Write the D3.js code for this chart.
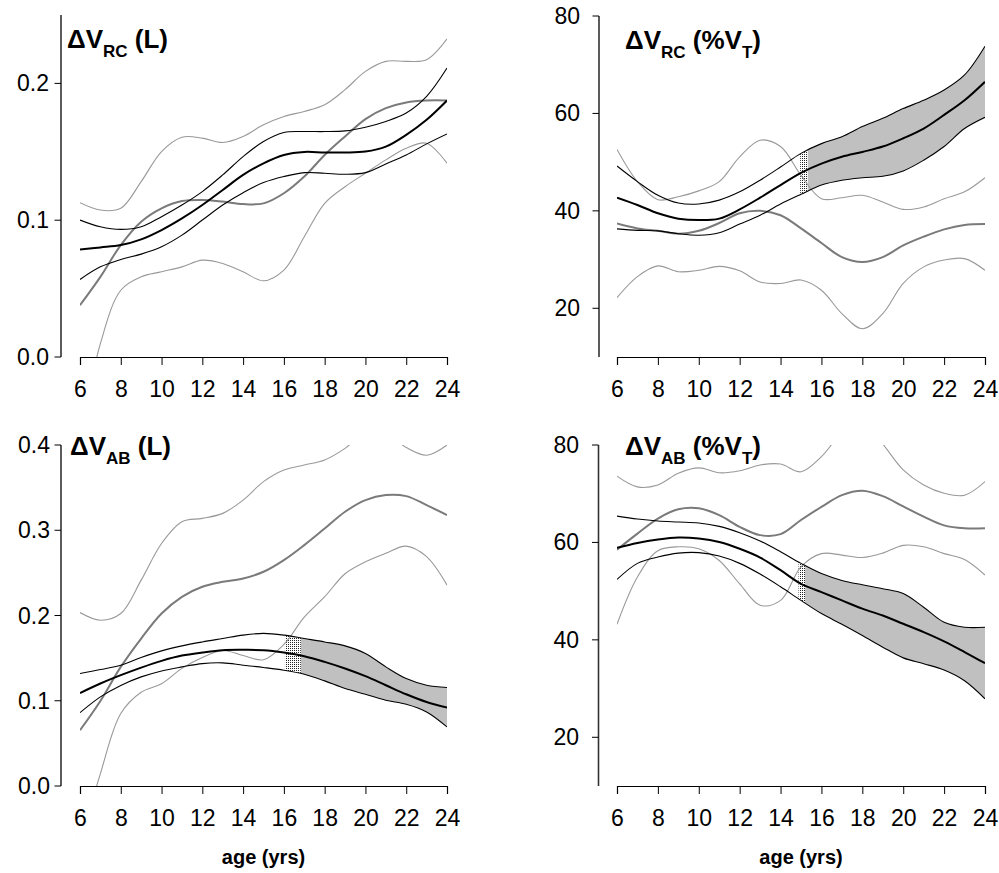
<!DOCTYPE html>
<html>
<head>
<meta charset="utf-8">
<script src="https://cdn.jsdelivr.net/npm/d3@7"></script>
<style>
  html, body { margin: 0; padding: 0; background: #fff; }
  svg { display: block; }
  text { font-family: "Liberation Sans", Arial, sans-serif; fill: #000; }
</style>
</head>
<body>
<svg id="chart" width="999" height="873"></svg>
<script>
// Ages at which the smoothed curves are sampled
const ages = [6, 7, 8, 9, 10, 11, 12, 13, 14, 15, 16, 17, 18, 19, 20, 21, 22, 23, 24];
const xTicks = [6, 8, 10, 12, 14, 16, 18, 20, 22, 24];

// ΔV_RC (L): group A (black) mean and 95% limits, group B (grey) mean and limits
const rcL_mean  = [0.0786, 0.0801, 0.0818, 0.0860, 0.0928, 0.1013, 0.1111, 0.1221, 0.1331, 0.1416, 0.1477, 0.1499, 0.1495, 0.1495, 0.1502, 0.1538, 0.1624, 0.1734, 0.1875];
const rcL_upper = [0.1001, 0.0952, 0.0933, 0.0952, 0.1026, 0.1111, 0.1209, 0.1331, 0.1465, 0.1575, 0.1641, 0.1648, 0.1648, 0.1653, 0.1680, 0.1722, 0.1783, 0.1905, 0.2112];
const rcL_lower = [0.0567, 0.0659, 0.0713, 0.0752, 0.0806, 0.0891, 0.1001, 0.1111, 0.1201, 0.1275, 0.1319, 0.1348, 0.1343, 0.1336, 0.1348, 0.1411, 0.1477, 0.1558, 0.1631];
const rcL_refMean  = [0.0379, 0.0586, 0.0818, 0.0989, 0.1087, 0.1140, 0.1148, 0.1136, 0.1118, 0.1123, 0.1197, 0.1319, 0.1477, 0.1612, 0.1739, 0.1819, 0.1861, 0.1875, 0.1875];
const rcL_refUpper = [0.1128, 0.1074, 0.1087, 0.1282, 0.1502, 0.1607, 0.1600, 0.1568, 0.1612, 0.1697, 0.1758, 0.1795, 0.1844, 0.1954, 0.2088, 0.2161, 0.2161, 0.2173, 0.2325];
const rcL_refLower = [-0.060, 0.0098, 0.0488, 0.0586, 0.0623, 0.0659, 0.0708, 0.0684, 0.0623, 0.0557, 0.0635, 0.0879, 0.1123, 0.1245, 0.1343, 0.1441, 0.1526, 0.1563, 0.1416];

// ΔV_RC (%V_T)
const rcPct_mean  = [42.7, 41.2, 39.5, 38.4, 38.1, 38.4, 40.3, 42.7, 45.3, 47.8, 49.7, 51.1, 52.1, 53.2, 54.9, 56.9, 59.7, 62.7, 66.5];
const rcPct_upper = [49.2, 46.0, 43.2, 41.6, 41.4, 42.2, 43.9, 46.3, 49.0, 51.8, 53.8, 55.2, 57.3, 59.0, 61.0, 62.7, 64.8, 67.9, 73.8];
const rcPct_lower = [36.3, 36.0, 35.9, 35.3, 35.0, 35.5, 37.3, 39.1, 41.4, 43.4, 45.3, 46.3, 46.8, 47.1, 48.2, 50.4, 53.2, 56.9, 59.2];
const rcPct_refMean  = [37.4, 36.4, 35.9, 35.3, 35.9, 37.5, 39.5, 40.0, 39.1, 36.4, 33.4, 30.5, 29.5, 30.5, 32.9, 34.7, 36.2, 37.1, 37.3];
const rcPct_refUpper = [52.6, 46.0, 42.3, 42.9, 44.1, 46.0, 51.1, 54.5, 53.2, 47.3, 42.5, 42.7, 43.2, 41.8, 40.3, 40.8, 42.5, 43.9, 46.8];
const rcPct_refLower = [22.2, 26.5, 28.7, 27.5, 27.8, 28.6, 27.7, 25.4, 25.1, 25.8, 23.7, 18.9, 15.8, 18.9, 25.1, 28.5, 29.9, 30.2, 27.8];

// ΔV_AB (L)
const abL_mean  = [0.109, 0.1202, 0.130, 0.1389, 0.1468, 0.1530, 0.1566, 0.1593, 0.1597, 0.1593, 0.1566, 0.1523, 0.1456, 0.1378, 0.1288, 0.1182, 0.1076, 0.0985, 0.092];
const abL_upper = [0.132, 0.1366, 0.1417, 0.1507, 0.1585, 0.1644, 0.169, 0.173, 0.177, 0.179, 0.177, 0.173, 0.169, 0.1644, 0.1554, 0.1397, 0.126, 0.1182, 0.1155];
const abL_lower = [0.086, 0.1045, 0.118, 0.128, 0.135, 0.1397, 0.1436, 0.1444, 0.1417, 0.139, 0.1358, 0.1311, 0.1233, 0.1143, 0.1076, 0.1006, 0.0959, 0.0869, 0.0693];
const abL_refMean  = [0.0654, 0.0998, 0.1397, 0.173, 0.2023, 0.2219, 0.2337, 0.2395, 0.2434, 0.2513, 0.265, 0.2826, 0.302, 0.3217, 0.3354, 0.3413, 0.340, 0.3295, 0.3178];
const abL_refUpper = [0.2035, 0.1945, 0.2023, 0.2415, 0.2845, 0.310, 0.3139, 0.3198, 0.3354, 0.357, 0.3706, 0.3765, 0.3824, 0.396, 0.415, 0.414, 0.397, 0.388, 0.400];
const abL_refLower = [-0.070, 0.0145, 0.085, 0.110, 0.120, 0.138, 0.1507, 0.159, 0.153, 0.148, 0.166, 0.198, 0.222, 0.249, 0.263, 0.273, 0.2814, 0.269, 0.2356];

// ΔV_AB (%V_T)
const abPct_mean  = [58.9, 59.9, 60.6, 61.0, 60.8, 60.1, 58.7, 56.9, 54.3, 51.5, 49.8, 48.1, 46.4, 45.0, 43.3, 41.6, 39.7, 37.5, 35.2];
const abPct_upper = [65.4, 64.8, 64.4, 64.2, 64.0, 63.3, 62.0, 60.3, 58.1, 55.7, 53.6, 52.2, 51.3, 50.5, 49.5, 46.7, 43.6, 42.6, 42.6];
const abPct_lower = [52.4, 55.7, 57.0, 57.8, 57.9, 57.2, 55.7, 53.5, 50.9, 48.1, 45.4, 43.2, 40.9, 38.5, 36.3, 35.1, 33.8, 31.6, 27.9];
const abPct_refMean  = [58.5, 61.8, 64.9, 66.8, 67.0, 65.6, 63.2, 61.5, 61.7, 64.6, 67.3, 69.7, 70.6, 69.5, 67.4, 65.3, 63.5, 62.9, 62.9];
const abPct_refUpper = [73.6, 71.4, 71.8, 74.2, 75.3, 74.3, 74.7, 75.9, 76.1, 74.5, 77.6, 82.5, 85.0, 80.2, 74.9, 71.8, 70.1, 69.7, 72.5];
const abPct_refLower = [43.2, 52.9, 58.3, 59.1, 58.7, 56.3, 51.5, 47.1, 48.1, 55.0, 57.7, 57.4, 56.9, 57.8, 59.4, 59.1, 57.7, 56.5, 53.3];

// Age ranges of the transition (stippled) zone and of the shaded band
const transitionStart = [null, 14.96, 16.05, 14.88];
const bandStart       = [null, 15.32, 16.83, 15.20];

const yDomains = [[0, 0.25], [10, 80], [0, 0.4], [10, 80]];
const yTickSets = [[0.0, 0.1, 0.2], [20, 40, 60, 80], [0.0, 0.1, 0.2, 0.3, 0.4], [20, 40, 60, 80]];
const titles = [
  { sub: "RC", unit: "(L)" },
  { sub: "RC", unit: "(%V", unitSub: "T", close: ")" },
  { sub: "AB", unit: "(L)" },
  { sub: "AB", unit: "(%V", unitSub: "T", close: ")" }
];

const series = [
  [rcL_mean, rcL_upper, rcL_lower, rcL_refMean, rcL_refUpper, rcL_refLower],
  [rcPct_mean, rcPct_upper, rcPct_lower, rcPct_refMean, rcPct_refUpper, rcPct_refLower],
  [abL_mean, abL_upper, abL_lower, abL_refMean, abL_refUpper, abL_refLower],
  [abPct_mean, abPct_upper, abPct_lower, abPct_refMean, abPct_refUpper, abPct_refLower]
];

// Panel geometry (pixels)
const layout = [
  { x0: 80,  x1: 447, top: 15,  bottom: 357, axisX: 61,  labelX: 49,  titleX: 67 },
  { x0: 617, x1: 985, top: 16,  bottom: 357, axisX: 599, labelX: 580, titleX: 625 },
  { x0: 80,  x1: 447, top: 445, bottom: 786, axisX: 61,  labelX: 50,  titleX: 70 },
  { x0: 617, x1: 985, top: 445, bottom: 786, axisX: 598.5, labelX: 579, titleX: 625 }
];

const TICK_FONT = 23;

const svg = d3.select("#chart");
const defs = svg.append("defs");

// stipple fill for the transition zone
const pat = defs.append("pattern")
  .attr("id", "stipple").attr("patternUnits", "userSpaceOnUse")
  .attr("width", 2).attr("height", 2);
pat.append("rect").attr("width", 2).attr("height", 2).attr("fill", "#fff");
pat.append("rect").attr("width", 1).attr("height", 1).attr("fill", "#222");

const lineStyles = [
  { stroke: "#000", width: 2.0 },
  { stroke: "#000", width: 1.1 },
  { stroke: "#000", width: 1.1 },
  { stroke: "#7a7a7a", width: 2.0 },
  { stroke: "#999", width: 1.1 },
  { stroke: "#999", width: 1.1 }
];

layout.forEach((L, i) => {
  const x = d3.scaleLinear().domain([6, 24]).range([L.x0, L.x1]);
  const y = d3.scaleLinear().domain(yDomains[i]).range([L.bottom, L.top]);
  const g = svg.append("g");

  const clipId = "plotclip" + i;
  defs.append("clipPath").attr("id", clipId).append("rect")
    .attr("x", x(6)).attr("y", y(yDomains[i][1]))
    .attr("width", x(24) - x(6)).attr("height", y(yDomains[i][0]) - y(yDomains[i][1]));

  const curve = d3.curveCatmullRom.alpha(0.5);
  const [mean, upper, lower] = series[i];

  // shaded band where the limits no longer overlap, preceded by a stippled transition
  if (bandStart[i] !== null) {
    const area = d3.area()
      .x((d, k) => x(ages[k]))
      .y0((d, k) => y(lower[k]))
      .y1((d, k) => y(upper[k]))
      .curve(curve);

    const bandClip = "band" + i, transClip = "trans" + i;
    defs.append("clipPath").attr("id", bandClip).append("rect")
      .attr("x", x(bandStart[i])).attr("y", L.top)
      .attr("width", x(24) - x(bandStart[i])).attr("height", L.bottom - L.top);
    defs.append("clipPath").attr("id", transClip).append("rect")
      .attr("x", x(transitionStart[i])).attr("y", L.top)
      .attr("width", x(bandStart[i]) - x(transitionStart[i])).attr("height", L.bottom - L.top);

    g.append("path").datum(ages).attr("d", area)
      .attr("fill", "#c0c0c0").attr("clip-path", `url(#${bandClip})`);
    g.append("path").datum(ages).attr("d", area)
      .attr("fill", "url(#stipple)").attr("clip-path", `url(#${transClip})`);
  }

  // curves: grey reference group drawn first, black group on top
  const order = [5, 4, 3, 2, 1, 0];
  order.forEach(s => {
    const vals = series[i][s];
    const line = d3.line()
      .x((d, k) => x(ages[k]))
      .y(d => y(d))
      .curve(curve);
    g.append("path").datum(vals).attr("d", line)
      .attr("fill", "none")
      .attr("stroke", lineStyles[s].stroke)
      .attr("stroke-width", lineStyles[s].width)
      .attr("clip-path", `url(#${clipId})`);
  });

  // y axis (detached, to the left of the first age)
  g.append("line")
    .attr("x1", L.axisX).attr("x2", L.axisX)
    .attr("y1", L.top).attr("y2", L.bottom)
    .attr("stroke", "#333").attr("stroke-width", 1.6);
  yTickSets[i].forEach(t => {
    g.append("line")
      .attr("x1", L.axisX - 6.5).attr("x2", L.axisX)
      .attr("y1", y(t)).attr("y2", y(t))
      .attr("stroke", "#000").attr("stroke-width", 1);
    g.append("text")
      .attr("x", L.labelX).attr("y", y(t) + 8)
      .attr("text-anchor", "end")
      .attr("font-size", TICK_FONT)
      .text(yDomains[i][1] < 1 ? d3.format(".1f")(t) : t);
  });

  // x axis
  const xa = d3.axisBottom(x).tickValues(xTicks).tickSize(8).tickPadding(0).tickFormat(d3.format("d"));
  const xg = g.append("g").attr("transform", `translate(0,${L.bottom})`).call(xa);
  xg.select(".domain").attr("stroke", "#000").attr("stroke-width", 1.2);
  xg.selectAll(".tick line").attr("stroke", "#000").attr("stroke-width", 1);
  xg.selectAll(".tick text")
    .attr("font-size", TICK_FONT).attr("font-family", "Liberation Sans, Arial, sans-serif")
    .attr("fill", "#000").attr("dy", null).attr("y", 40);

  // panel title
  const T = titles[i];
  const tt = g.append("text").attr("x", L.titleX).attr("y", L.top + (i < 2 ? 33 : 10))
    .attr("font-weight", "bold").attr("font-size", 26);
  tt.append("tspan").text("\u0394V");
  tt.append("tspan").attr("font-size", 17).attr("dy", 9).text(T.sub);
  tt.append("tspan").attr("dy", -9).text(" " + T.unit);
  if (T.unitSub) {
    tt.append("tspan").attr("font-size", 17).attr("dy", 9).text(T.unitSub);
    tt.append("tspan").attr("dy", -9).text(T.close);
  }

  // age label under the bottom row
  if (i >= 2) {
    g.append("text")
      .attr("x", (L.x0 + L.x1) / 2).attr("y", 864)
      .attr("text-anchor", "middle").attr("font-weight", "bold").attr("font-size", 20)
      .text("age (yrs)");
  }
});
</script>
</body>
</html>
